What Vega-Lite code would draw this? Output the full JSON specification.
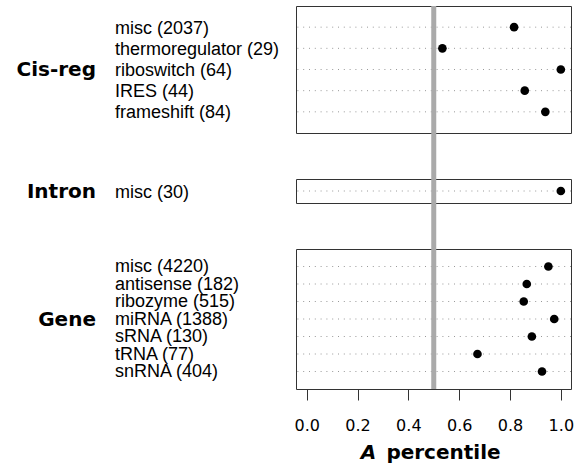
{
  "$schema": "https://vega.github.io/schema/vega-lite/v6.json",
  "padding": {"left": 15, "top": 3, "right": 2, "bottom": 2},
  "background": "white",
  "config": {
    "view": {"stroke": "#333333", "strokeWidth": 1},
    "font": "DejaVu Sans"
  },
  "bounds": "flush",
  "spacing": 46,
  "datasets": {
    "cis": [
      {"label": "misc (2037)", "value": 0.816},
      {"label": "thermoregulator (29)", "value": 0.534},
      {"label": "riboswitch (64)", "value": 1.0},
      {"label": "IRES (44)", "value": 0.858},
      {"label": "frameshift (84)", "value": 0.939}
    ],
    "intron": [
      {"label": "misc (30)", "value": 1.0}
    ],
    "gene": [
      {"label": "misc (4220)", "value": 0.951},
      {"label": "antisense (182)", "value": 0.866},
      {"label": "ribozyme (515)", "value": 0.854},
      {"label": "miRNA (1388)", "value": 0.974},
      {"label": "sRNA (130)", "value": 0.886},
      {"label": "tRNA (77)", "value": 0.672},
      {"label": "snRNA (404)", "value": 0.926}
    ],
    "ref": [{"ref": 0.5}]
  },
  "vconcat": [
    {
      "width": 275,
      "height": 127,
      "layer": [
        {
          "data": {"name": "cis"},
          "mark": {"type": "rule", "stroke": "#999999", "strokeWidth": 1, "strokeDash": [1, 4.8]},
          "encoding": {
            "y": {
              "field": "label", "type": "nominal", "sort": null,
              "scale": {"type": "point", "padding": 1},
              "axis": {
                "title": "Cis-reg", "titleAngle": 0, "titleAlign": "right", "titleBaseline": "middle",
                "titleX": -200.5, "titleY": 63, "titleFont": "DejaVu Sans", "titleFontWeight": "bold",
                "titleFontSize": 20, "titleColor": "black",
                "labelAlign": "left", "labelBaseline": "middle", "labelPadding": 181.5, "labelOffset": 1,
                "labelFont": "Liberation Sans", "labelFontSize": 18, "labelColor": "black",
                "labelOverlap": false, "labelLimit": 400,
                "ticks": false, "tickSize": 0, "domain": false, "grid": false
              }
            }
          }
        },
        {
          "data": {"name": "ref"},
          "mark": {"type": "rule", "stroke": "#aaaaaa", "strokeWidth": 5},
          "encoding": {
            "x": {"field": "ref", "type": "quantitative", "scale": {"domain": [-0.042, 1.04], "nice": false, "zero": false}, "axis": null},
            "y": {"value": 0},
            "y2": {"value": 173}
          }
        },
        {
          "data": {"name": "cis"},
          "mark": {"type": "circle", "color": "black", "opacity": 1, "size": 75},
          "encoding": {
            "x": {"field": "value", "type": "quantitative", "scale": {"domain": [-0.042, 1.04], "nice": false, "zero": false}, "axis": null},
            "y": {"field": "label", "type": "nominal", "sort": null}
          }
        }
      ]
    },
    {
      "width": 275,
      "height": 24,
      "layer": [
        {
          "data": {"name": "intron"},
          "mark": {"type": "rule", "stroke": "#999999", "strokeWidth": 1, "strokeDash": [1, 4.8]},
          "encoding": {
            "y": {
              "field": "label", "type": "nominal", "sort": null,
              "scale": {"type": "point", "padding": 1},
              "axis": {
                "title": "Intron", "titleAngle": 0, "titleAlign": "right", "titleBaseline": "middle",
                "titleX": -200.5, "titleY": 12, "titleFont": "DejaVu Sans", "titleFontWeight": "bold",
                "titleFontSize": 20, "titleColor": "black",
                "labelAlign": "left", "labelBaseline": "middle", "labelPadding": 181.5, "labelOffset": 1,
                "labelFont": "Liberation Sans", "labelFontSize": 18, "labelColor": "black",
                "labelOverlap": false, "labelLimit": 400,
                "ticks": false, "tickSize": 0, "domain": false, "grid": false
              }
            }
          }
        },
        {
          "data": {"name": "ref"},
          "mark": {"type": "rule", "stroke": "#aaaaaa", "strokeWidth": 5},
          "encoding": {
            "x": {"field": "ref", "type": "quantitative", "scale": {"domain": [-0.042, 1.04], "nice": false, "zero": false}, "axis": null},
            "y": {"value": 0},
            "y2": {"value": 70}
          }
        },
        {
          "data": {"name": "intron"},
          "mark": {"type": "circle", "color": "black", "opacity": 1, "size": 75},
          "encoding": {
            "x": {"field": "value", "type": "quantitative", "scale": {"domain": [-0.042, 1.04], "nice": false, "zero": false}, "axis": null},
            "y": {"field": "label", "type": "nominal", "sort": null}
          }
        }
      ]
    },
    {
      "width": 275,
      "height": 140,
      "resolve": {"axis": {"x": "independent"}},
      "layer": [
        {
          "data": {"name": "gene"},
          "mark": {"type": "rule", "stroke": "#999999", "strokeWidth": 1, "strokeDash": [1, 4.8]},
          "encoding": {
            "y": {
              "field": "label", "type": "nominal", "sort": null,
              "scale": {"type": "point", "padding": 1},
              "axis": {
                "title": "Gene", "titleAngle": 0, "titleAlign": "right", "titleBaseline": "middle",
                "titleX": -200.5, "titleY": 70, "titleFont": "DejaVu Sans", "titleFontWeight": "bold",
                "titleFontSize": 20, "titleColor": "black",
                "labelAlign": "left", "labelBaseline": "middle", "labelPadding": 181.5, "labelOffset": 0,
                "labelFont": "Liberation Sans", "labelFontSize": 18, "labelColor": "black",
                "labelOverlap": false, "labelLimit": 400,
                "ticks": false, "tickSize": 0, "domain": false, "grid": false
              }
            }
          }
        },
        {
          "data": {"name": "ref"},
          "mark": {"type": "rule", "stroke": "#aaaaaa", "strokeWidth": 5},
          "encoding": {
            "x": {
              "field": "ref", "type": "quantitative",
              "scale": {"domain": [-0.042, 1.04], "nice": false, "zero": false},
              "axis": {
                "orient": "bottom", "title": "A", "labels": false, "ticks": false, "domain": false, "grid": false,
                "titleFont": "DejaVu Sans", "titleFontSize": 20, "titleFontWeight": "bold", "titleFontStyle": "italic",
                "titleColor": "black", "titleX": 72, "titleY": 69, "titleBaseline": "alphabetic", "titleAlign": "center"
              }
            }
          }
        },
        {
          "data": {"name": "gene"},
          "mark": {"type": "circle", "color": "black", "opacity": 1, "size": 75},
          "encoding": {
            "x": {
              "field": "value", "type": "quantitative",
              "scale": {"domain": [-0.042, 1.04], "nice": false, "zero": false},
              "axis": {
                "orient": "bottom", "title": "percentile",
                "values": [0, 0.2, 0.4, 0.6, 0.8, 1.0], "format": ".1f",
                "tickSize": 11, "tickColor": "#333333", "tickWidth": 1, "domain": false, "grid": false,
                "labelFont": "DejaVu Sans", "labelFontSize": 16, "labelColor": "black", "labelPadding": 17,
                "labelFlush": false, "labelOverlap": false,
                "titleFont": "DejaVu Sans", "titleFontSize": 20, "titleFontWeight": "bold", "titleColor": "black",
                "titleX": 147, "titleY": 69, "titleBaseline": "alphabetic", "titleAlign": "center"
              }
            },
            "y": {"field": "label", "type": "nominal", "sort": null}
          }
        }
      ]
    }
  ]
}
